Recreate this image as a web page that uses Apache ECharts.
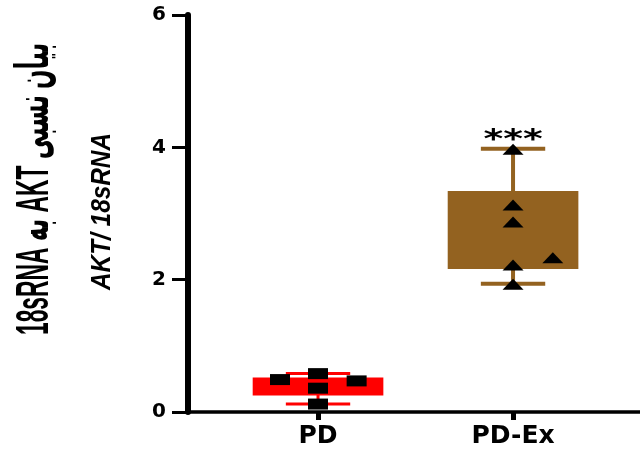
<!DOCTYPE html>
<html><head><meta charset="utf-8">
<script src="https://cdn.jsdelivr.net/npm/echarts@6/dist/echarts.min.js"></script>
<style>html,body{margin:0;padding:0;background:#fff}#c{width:640px;height:451px}</style>
</head><body><div id="c"></div>
<script>
// ---- data ----
const categories = ['PD', 'PD-Ex'];
const categoryPos = [1, 2];
const yTicks = [0, 2, 4, 6];
// box stats: [position, low whisker, Q1, Q3, high whisker]
const boxPD = [1, 0.12, 0.25, 0.52, 0.58];
const boxPDEx = [2, 1.94, 2.16, 3.34, 3.98];
// individual points [position (with jitter), value]
const pointsPD = [[0.805, 0.49], [1, 0.58], [1.198, 0.47], [1, 0.36], [1, 0.12]];
const pointsPDEx = [[2, 3.97], [2, 3.13], [2, 2.87], [2.204, 2.33], [2, 2.22], [2, 1.93]];
const significance = ['', '***'];
const yTitle1 = '18sRNA به AKT بیان نسبی';
const yTitle2 = 'AKT/ 18sRNA';

// ---- styles ----
const boxColors = ['#ff0000', '#936220'];
const whiskerWidths = [3, 4];

const mctx = document.createElement('canvas').getContext('2d');
function fitScale(text, font, target) {
  mctx.font = font;
  return target / mctx.measureText(text).width;
}
const font1 = 'bold 46px "Liberation Sans Narrow", "Liberation Sans", "DejaVu Sans"';
const font2 = 'italic bold 28px "Liberation Sans Narrow", "Liberation Sans", "DejaVu Sans"';

function renderBox(params, api) {
  const i = params.dataIndex;
  const x = api.value(0);
  const pLow = api.coord([x, api.value(1)]);
  const pQ1 = api.coord([x, api.value(2)]);
  const pQ3 = api.coord([x, api.value(3)]);
  const pHigh = api.coord([x, api.value(4)]);
  const boxW = api.size([0.67, 0])[0];
  const capW = api.size([0.33, 0])[0];
  const cx = pLow[0];
  const color = boxColors[i];
  const lw = whiskerWidths[i];
  const ls = { stroke: color, lineWidth: lw };
  const children = [
    { type: 'line', shape: { x1: cx, y1: pLow[1], x2: cx, y2: pHigh[1] }, style: ls },
    { type: 'line', shape: { x1: cx - capW / 2, y1: pLow[1], x2: cx + capW / 2, y2: pLow[1] }, style: ls },
    { type: 'line', shape: { x1: cx - capW / 2, y1: pHigh[1], x2: cx + capW / 2, y2: pHigh[1] }, style: ls },
    { type: 'rect', shape: { x: cx - boxW / 2, y: pQ3[1], width: boxW, height: pQ1[1] - pQ3[1] }, style: { fill: color } }
  ];
  if (significance[i]) {
    children.push({
      type: 'text', x: cx, y: pHigh[1] - 7, scaleX: 1.45,
      style: { text: significance[i], font: 'bold 26px "DejaVu Sans"', fill: '#000', align: 'center', verticalAlign: 'middle' }
    });
  }
  return { type: 'group', children };
}

const chart = echarts.init(document.getElementById('c'), null, { renderer: 'canvas' });
chart.setOption({
  animation: false,
  backgroundColor: '#fff',
  grid: { left: 188, right: 0, top: 15, bottom: 39, containLabel: false },
  xAxis: {
    type: 'value', min: 0.3333, max: 2.651,
    splitLine: { show: false },
    axisLine: { show: true, onZero: false, lineStyle: { color: '#000', width: 3.5 } },
    axisTick: { show: true, customValues: categoryPos, length: 8, lineStyle: { color: '#000', width: 5 } },
    axisLabel: {
      customValues: categoryPos, margin: 12,
      formatter: v => categories[categoryPos.indexOf(Math.round(v))] || '',
      color: '#000', fontFamily: 'DejaVu Sans', fontWeight: 'bold', fontSize: 25
    }
  },
  yAxis: {
    type: 'value', min: yTicks[0], max: yTicks[yTicks.length - 1], interval: 2,
    splitLine: { show: false },
    axisLine: { show: true, lineStyle: { color: '#000', width: 6 } },
    axisTick: { show: true, length: 16, lineStyle: { color: '#000', width: 3 } },
    axisLabel: { margin: 22, color: '#000', fontFamily: 'DejaVu Sans', fontWeight: 'bold', fontSize: 20 }
  },
  graphic: [
    {
      type: 'text', x: 35, y: 189, rotation: Math.PI / 2, scaleX: fitScale(yTitle1, font1, 292),
      style: { text: yTitle1, font: font1, fill: '#000', align: 'center', verticalAlign: 'middle', textAlign: 'center', textVerticalAlign: 'middle' }
    },
    {
      type: 'text', x: 102, y: 211.5, rotation: Math.PI / 2, scaleX: fitScale(yTitle2, font2, 157),
      style: { text: yTitle2, font: font2, fill: '#000', align: 'center', verticalAlign: 'middle', textAlign: 'center', textVerticalAlign: 'middle' }
    }
  ],
  series: [
    { type: 'custom', renderItem: renderBox, data: [boxPD, boxPDEx], z: 2, clip: false },
    { type: 'scatter', data: pointsPD, symbol: 'rect', symbolSize: [20, 11], itemStyle: { color: '#000', opacity: 1 }, z: 5 },
    { type: 'scatter', data: pointsPDEx, symbol: 'triangle', symbolSize: [21, 11], itemStyle: { color: '#000', opacity: 1 }, z: 5 }
  ]
});
</script>
</body></html>
